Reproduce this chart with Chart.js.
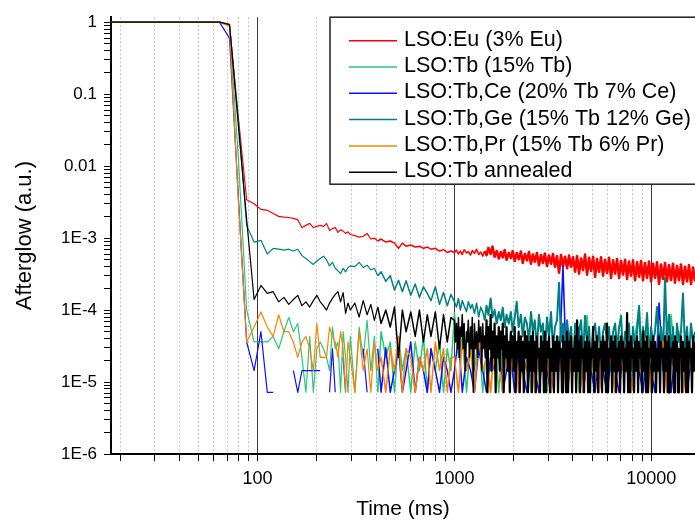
<!DOCTYPE html>
<html>
<head>
<meta charset="utf-8">
<title>Afterglow</title>
<script src="https://cdn.jsdelivr.net/npm/chart.js@4.4.0/dist/chart.umd.min.js"></script>
<style>
  html, body { margin: 0; padding: 0; background: #fff; }
  #wrap { width: 695px; height: 523px; }
</style>
</head>
<body>
<div id="wrap"><canvas id="afterglowChart" width="695" height="523"></canvas></div>
<script>
// Tiempos (ms) - parte inicial y caida, comun a todas las series
const timeEarly = [16, 24, 32, 40, 48, 56, 64, 72, 80, 88,
  96, 104, 112, 120, 128, 136, 144, 152, 160, 168,
  176, 184, 192, 200, 208, 216, 224, 232, 240, 248,
  256, 264, 272, 280, 288, 296, 312, 328, 344, 360,
  376, 392, 408, 424, 448, 472, 496, 520, 544, 568,
  600, 632, 664, 696, 728, 760, 800, 840, 880, 920,
  960];

// Tiempos (ms) de la zona ruidosa
const timeLate = [1000, 1024, 1048, 1072, 1096, 1120, 1152, 1176, 1208, 1232,
  1264, 1296, 1328, 1360, 1392, 1424, 1456, 1488, 1528, 1560,
  1600, 1640, 1680, 1720, 1760, 1800, 1840, 1888, 1936, 1976,
  2024, 2072, 2120, 2176, 2224, 2280, 2336, 2392, 2448, 2504,
  2560, 2624, 2688, 2752, 2816, 2880, 2952, 3024, 3096, 3168,
  3240, 3320, 3400, 3480, 3560, 3648, 3736, 3824, 3912, 4008,
  4104, 4200, 4296, 4400, 4504, 4608, 4720, 4832, 4944, 5064,
  5184, 5304, 5432, 5560, 5688, 5824, 5960, 6104, 6248, 6400,
  6552, 6704, 6864, 7024, 7192, 7360, 7536, 7712, 7896, 8080,
  8272, 8472, 8672, 8872, 9080, 9296, 9520, 9744, 9976, 10208,
  10448, 10696, 10952, 11208, 11472, 11744, 12024, 12304, 12600, 12896,
  13200, 13512, 13832, 14160, 14496, 14840, 15192, 15552, 15920, 16296,
  16680];

// tiempos intermedios (solo la serie annealed, que es la mas densa)
const timeLateMid = [1012, 1036, 1060, 1084, 1108, 1136, 1164, 1192, 1220, 1248,
  1280, 1312, 1344, 1376, 1408, 1440, 1472, 1508, 1544, 1580,
  1620, 1660, 1700, 1740, 1780, 1820, 1864, 1912, 1956, 2000,
  2048, 2096, 2148, 2200, 2252, 2308, 2364, 2420, 2476, 2532,
  2592, 2656, 2720, 2784, 2848, 2916, 2988, 3060, 3132, 3204,
  3280, 3360, 3440, 3520, 3604, 3692, 3780, 3868, 3960, 4056,
  4152, 4248, 4348, 4452, 4556, 4664, 4776, 4888, 5004, 5124,
  5244, 5368, 5496, 5624, 5756, 5892, 6032, 6176, 6324, 6476,
  6628, 6784, 6944, 7108, 7276, 7448, 7624, 7804, 7988, 8176,
  8372, 8572, 8772, 8976, 9188, 9408, 9632, 9860, 10092, 10328,
  10572, 10824, 11080, 11340, 11608, 11884, 12164, 12452, 12748, 13048,
  13356, 13672, 13996, 14328, 14668, 15016, 15372, 15736, 16108, 16488];

const timeLateSparse = [1000, 1048, 1096, 1152, 1208, 1264, 1328, 1392, 1456, 1528,
  1600, 1680, 1760, 1840, 1936, 2024, 2120, 2224, 2336, 2448,
  2560, 2688, 2816, 2952, 3096, 3240, 3400, 3560, 3736, 3912,
  4104, 4296, 4504, 4720, 4944, 5184, 5432, 5688, 5960, 6248,
  6552, 6864, 7192, 7536, 7896, 8272, 8672, 9080, 9520, 9976,
  10448, 10952, 11472, 12024, 12600, 13200, 13832, 14496, 15192, 15920,
  16680];

// LSO:Eu (3% Eu)
const euEarly = [1, 1, 1, 1, 1, 1, 1, 0.92, 0.045, 3.4e-3,
  3.0e-3, 2.5e-3, 2.43e-3, 2.2e-3, 2.0e-3, 1.95e-3, 1.93e-3, 1.88e-3, 1.8e-3, 1.4e-3,
  1.5e-3, 1.6e-3, 1.4e-3, 1.45e-3, 1.5e-3, 1.45e-3, 1.6e-3, 1.27e-3, 1.35e-3, 1.4e-3,
  1.2e-3, 1.3e-3, 1.25e-3, 1.16e-3, 1.22e-3, 1.12e-3, 1.08e-3, 1.03e-3, 1.06e-3, 1.16e-3,
  9.7e-4, 1.0e-3, 9.1e-4, 9.7e-4, 8.8e-4, 9.1e-4, 8.5e-4, 7.2e-4, 8.5e-4, 7.7e-4,
  8.0e-4, 7.5e-4, 7.7e-4, 7.2e-4, 7.5e-4, 7.0e-4, 7.2e-4, 6.6e-4, 6.9e-4, 6.3e-4,
  6.6e-4];
const euLate = [6.3e-4, 6.8e-4, 6.0e-4, 6.6e-4, 5.9e-4, 6.9e-4, 6.2e-4, 6.5e-4, 5.8e-4, 6.7e-4,
  6.1e-4, 7.0e-4, 5.9e-4, 6.4e-4, 5.6e-4, 6.6e-4, 5.8e-4, 7.3e-4, 6.0e-4, 7.6e-4,
  5.5e-4, 6.6e-4, 5.2e-4, 6.4e-4, 5.4e-4, 6.8e-4, 5.0e-4, 6.2e-4, 5.3e-4, 6.6e-4,
  4.8e-4, 6.2e-4, 5.1e-4, 6.5e-4, 4.5e-4, 6.0e-4, 4.9e-4, 6.4e-4, 4.4e-4, 5.9e-4,
  4.7e-4, 6.2e-4, 4.2e-4, 5.8e-4, 4.5e-4, 6.1e-4, 4.1e-4, 5.7e-4, 4.4e-4, 6.0e-4,
  4.0e-4, 5.6e-4, 3.3e-4, 5.8e-4, 4.1e-4, 5.5e-4, 3.8e-4, 5.7e-4, 4.0e-4, 5.4e-4,
  3.4e-4, 5.6e-4, 3.2e-4, 5.2e-4, 3.6e-4, 5.9e-4, 3.1e-4, 5.3e-4, 3.5e-4, 5.5e-4,
  2.9e-4, 5.1e-4, 3.4e-4, 5.4e-4, 3.0e-4, 5.0e-4, 3.3e-4, 5.3e-4, 2.8e-4, 4.9e-4,
  3.2e-4, 5.1e-4, 2.8e-4, 4.8e-4, 3.1e-4, 5.0e-4, 2.7e-4, 4.7e-4, 3.0e-4, 4.9e-4,
  2.6e-4, 4.6e-4, 2.9e-4, 4.8e-4, 2.6e-4, 4.5e-4, 2.8e-4, 4.7e-4, 2.5e-4, 4.4e-4,
  2.8e-4, 4.6e-4, 2.3e-4, 4.3e-4, 2.7e-4, 4.5e-4, 2.5e-4, 4.2e-4, 2.6e-4, 4.4e-4,
  2.4e-4, 4.1e-4, 2.6e-4, 4.3e-4, 2.3e-4, 4.0e-4, 2.5e-4, 4.2e-4, 2.3e-4, 3.9e-4,
  2.5e-4];

// LSO:Tb (15% Tb)
const tbEarly = [1, 1, 1, 1, 1, 1, 1, 0.9, 0.012, 1.0e-4,
  3.6e-5, 3.6e-5, 3.6e-5, 4.3e-5, 2.9e-5, 5.0e-5, 7.9e-5, 5.0e-5, 6.5e-5, 2.2e-5,
  7.2e-6, 4.3e-5, 7.2e-6, 2.9e-5, 3.6e-5, 2.9e-5, 2.2e-5, 1.44e-5, 5.8e-5, 2.9e-5,
  3.6e-5, 7.2e-6, 5.0e-5, 2.2e-5, 7.2e-6, 4.3e-5, 7.2e-6, 5.8e-5, 2.2e-5, 7.2e-5,
  1.44e-5, 4.3e-5, 7.2e-6, 5.0e-5, 2.2e-5, 3.6e-5, 7.2e-6, 4.3e-5, 1.44e-5, 2.9e-5,
  7.2e-6, 3.6e-5, 1.44e-5, 4.3e-5, 7.2e-6, 2.9e-5, 1.44e-5, 3.6e-5, 7.2e-6, 2.9e-5,
  1.44e-5];
const tbLate = [9.1e-5, 2.2e-5, 4.3e-5, 7.2e-6, 3.6e-5, 1.44e-5, 5.0e-5, 7.2e-6, 2.9e-5, 1.44e-5,
  4.3e-5, 7.2e-6, 3.6e-5, 2.2e-5, 5.0e-5, 7.2e-6, 2.9e-5, 1.44e-5, 4.3e-5, 7.2e-6,
  3.6e-5, 1.44e-5, 5.0e-5, 7.2e-6, 2.9e-5, 2.2e-5, 4.3e-5, 7.2e-6, 3.6e-5, 1.44e-5,
  5.0e-5, 7.2e-6, 2.9e-5, 8.3e-5, 1.44e-5, 3.6e-5, 7.2e-6, 4.3e-5, 1.44e-5, 3.6e-5,
  7.2e-6, 4.3e-5, 2.2e-5, 3.6e-5, 7.2e-6, 4.3e-5, 1.1e-4, 1.44e-5, 8.6e-5, 7.2e-6,
  3.6e-5, 1.44e-5, 4.3e-5, 7.2e-6, 8.6e-5, 2.2e-5, 5.0e-5, 7.2e-6, 3.6e-5, 1.44e-5,
  4.3e-5];

// LSO:Tb,Ce (20% Tb 7% Ce) - null = sin senal (hueco)
const ceEarly = [1, 1, 1, 1, 1, 1, 1, 0.6, 3.4e-3, 3.6e-5,
  1.44e-5, 5.0e-5, 7.2e-6, 7.2e-6, null, null, null, 1.44e-5, 7.2e-6, 1.44e-5,
  1.44e-5, 1.44e-5, 1.44e-5, 1.44e-5, 1.44e-5, null, null, 7.2e-6, 2.9e-5, 7.2e-6,
  null, null, 2.2e-5, 7.2e-6, null, null, null, null, 2.9e-5, 7.2e-6,
  null, null, 2.9e-5, 7.2e-6, 3.0e-5, 7.2e-6, 1.44e-5, 2.9e-5, 7.2e-6, 1.44e-5,
  3.6e-5, 7.2e-6, 2.2e-5, 1.44e-5, 7.2e-6, 2.9e-5, 1.44e-5, 7.2e-6, 2.2e-5, 1.44e-5,
  7.2e-6];
const ceLate = [1.44e-5, 4.3e-5, 7.2e-6, 2.2e-5, 1.44e-5, 7.2e-6, 2.9e-5, 1.44e-5, 7.2e-6, 2.2e-5,
  1.44e-5, 3.6e-5, 7.2e-6, 1.44e-5, 2.2e-5, 7.2e-6, 2.9e-5, 1.44e-5, 7.2e-6, 2.2e-5,
  1.44e-5, 7.2e-6, 2.9e-5, 1.44e-5, 7.2e-6, 2.2e-5, 1.44e-5, 4.1e-4, 7.2e-6, 2.2e-5,
  1.44e-5, 5.8e-5, 7.2e-6, 2.2e-5, 1.44e-5, 7.2e-6, 2.9e-5, 1.44e-5, 7.2e-6, 2.2e-5,
  1.44e-5, 7.2e-6, 2.9e-5, 1.44e-5, 7.2e-6, 2.2e-5, 1.44e-5, 7.2e-6, 2.9e-5, 1.44e-5,
  7.2e-6, 1.25e-4, 1.44e-5, 5.8e-5, 7.2e-6, 2.2e-5, 1.44e-5, 3.6e-5, 7.2e-6, 2.2e-5,
  1.44e-5];

// LSO:Tb,Ge (15% Tb 12% Ge)
const geEarly = [1, 1, 1, 1, 1, 1, 1, 0.9, 0.04, 1.5e-3,
  8.8e-4, 9.3e-4, 6.0e-4, 7.2e-4, 7.0e-4, 6.8e-4, 7.0e-4, 6.6e-4, 7.0e-4, 5.7e-4,
  5.2e-4, 4.7e-4, 4.3e-4, 4.8e-4, 5.2e-4, 5.6e-4, 5.0e-4, 4.1e-4, 4.6e-4, 3.8e-4,
  3.5e-4, 3.2e-4, 3.8e-4, 3.4e-4, 3.9e-4, 4.1e-4, 4.0e-4, 4.6e-4, 3.9e-4, 4.2e-4,
  3.6e-4, 3.8e-4, 3.0e-4, 3.4e-4, 2.5e-4, 3.0e-4, 1.9e-4, 2.6e-4, 1.8e-4, 2.55e-4,
  1.6e-4, 2.3e-4, 1.5e-4, 2.1e-4, 1.7e-4, 1.35e-4, 2.1e-4, 1.2e-4, 1.75e-4, 1.15e-4,
  1.65e-4];
const geLate = [1.3e-4, 1.1e-4, 1.45e-4, 1.0e-4, 1.35e-4, 1.15e-4, 9.5e-5, 1.3e-4, 1.05e-4, 1.2e-4,
  9.0e-5, 1.25e-4, 8.0e-5, 1.1e-4, 9.5e-5, 7.2e-5, 1.15e-4, 8.6e-5, 1.45e-4, 7.9e-5,
  1.0e-4, 6.5e-5, 9.4e-5, 7.2e-5, 1.08e-4, 5.8e-5, 8.6e-5, 6.5e-5, 9.4e-5, 5.0e-5,
  7.9e-5, 1.3e-4, 5.8e-5, 8.6e-5, 4.3e-5, 7.9e-5, 6.5e-5, 3.6e-5, 9.4e-5, 5.0e-5,
  7.2e-5, 2.9e-5, 8.6e-5, 5.0e-5, 6.5e-5, 2.2e-5, 7.9e-5, 4.3e-5, 9.4e-5, 2.9e-5,
  5.8e-5, 7.2e-5, 2.4e-4, 3.6e-5, 6.5e-5, 2.2e-5, 7.2e-5, 3.6e-5, 5.8e-5, 1.44e-5,
  6.5e-5, 2.9e-5, 5.0e-5, 7.2e-5, 2.2e-5, 8.3e-5, 3.6e-5, 5.8e-5, 1.44e-5, 5.0e-5,
  6.5e-5, 2.9e-5, 5.8e-5, 2.2e-5, 5.0e-5, 6.5e-5, 3.6e-5, 5.8e-5, 1.44e-5, 5.0e-5,
  6.5e-5, 2.9e-5, 5.8e-5, 8.3e-5, 2.2e-5, 5.0e-5, 3.6e-5, 6.5e-5, 1.44e-5, 5.8e-5,
  2.9e-5, 5.0e-5, 1.15e-4, 2.2e-5, 5.8e-5, 3.6e-5, 9.1e-5, 2.2e-5, 5.8e-5, 3.6e-5,
  5.0e-5, 1.1e-4, 2.9e-5, 5.8e-5, 2.2e-5, 2.8e-4, 3.6e-5, 8.6e-5, 2.9e-5, 5.8e-5,
  1.44e-5, 6.5e-5, 3.6e-5, 5.0e-5, 1.7e-4, 2.9e-5, 5.8e-5, 2.2e-5, 6.5e-5, 3.6e-5,
  5.0e-5];

// LSO:Tb,Pr (15% Tb 6% Pr)
const prEarly = [1, 1, 1, 1, 1, 1, 1, 0.88, 3.0e-3, 3.6e-5,
  5.8e-5, 9.4e-5, 5.8e-5, 4.3e-5, 8.6e-5, 5.0e-5, 5.0e-5, 3.6e-5, 2.2e-5, 3.6e-5,
  4.3e-5, 2.9e-5, 1.44e-5, 6.5e-5, 2.2e-5, 2.2e-5, 2.2e-5, 5.8e-5, 4.3e-5, 3.6e-5,
  2.2e-5, 5.0e-5, 2.9e-5, 7.2e-6, 3.6e-5, 2.2e-5, 7.2e-6, 5.0e-5, 1.44e-5, 2.9e-5,
  7.2e-6, 3.6e-5, 1.44e-5, 2.2e-5, 7.2e-6, 2.9e-5, 1.44e-5, 4.3e-5, 7.2e-6, 2.9e-5,
  2.2e-5, 7.2e-6, 2.2e-5, 1.44e-5, 2.9e-5, 7.2e-6, 3.6e-5, 1.44e-5, 2.9e-5, 7.2e-6,
  2.2e-5];
const prLate = [2.2e-5, 7.2e-6, 3.6e-5, 1.44e-5, 2.9e-5, 7.2e-6, 4.3e-5, 1.44e-5, 2.2e-5, 7.2e-6,
  3.6e-5, 2.2e-5, 7.2e-6, 2.9e-5, 1.44e-5, 3.6e-5, 7.2e-6, 2.2e-5, 1.44e-5, 4.3e-5,
  7.2e-6, 2.9e-5, 1.44e-5, 2.2e-5, 7.2e-6, 3.6e-5, 1.44e-5, 2.9e-5, 7.2e-6, 2.2e-5,
  1.44e-5, 3.6e-5, 7.2e-6, 2.2e-5, 1.44e-5, 2.9e-5, 7.2e-6, 4.3e-5, 1.44e-5, 2.2e-5,
  7.2e-6, 2.9e-5, 1.44e-5, 3.6e-5, 7.2e-6, 2.2e-5, 1.44e-5, 2.9e-5, 4.3e-5, 7.2e-6,
  2.2e-5, 1.44e-5, 3.6e-5, 7.2e-6, 2.2e-5, 1.44e-5, 2.9e-5, 7.2e-6, 2.2e-5, 1.44e-5,
  3.6e-5];

// LSO:Tb annealed
const annEarly = [1, 1, 1, 1, 1, 1, 1, 0.93, 0.035, 1.8e-3,
  1.4e-4, 2.2e-4, 1.7e-4, 1.8e-4, 1.3e-4, 1.5e-4, 1.2e-4, 1.4e-4, 1.6e-4, 1.15e-4,
  1.3e-4, 1.1e-4, 1.35e-4, 1.6e-4, 1.3e-4, 1.15e-4, 1.0e-4, 1.25e-4, 1.45e-4, 1.65e-4,
  1.8e-4, 1.3e-4, 1.75e-4, 9.0e-5, 1.25e-4, 1.0e-4, 1.25e-4, 8.0e-5, 1.35e-4, 8.6e-5,
  1.2e-4, 7.2e-5, 1.1e-4, 6.5e-5, 1.0e-4, 5.8e-5, 1.1e-4, 2.2e-5, 1.0e-4, 5.0e-5,
  9.4e-5, 4.3e-5, 1.0e-4, 3.6e-5, 8.6e-5, 4.3e-5, 9.4e-5, 2.9e-5, 8.6e-5, 3.6e-5,
  7.9e-5];
// valores en timeLate (picos)
const annLate = [7.2e-5, 6.5e-5, 7.9e-5, 5.8e-5, 8.6e-5, 6.5e-5, 5.0e-5, 7.2e-5, 5.8e-5, 7.9e-5,
  6.5e-5, 5.0e-5, 7.2e-5, 5.8e-5, 6.5e-5, 4.3e-5, 7.2e-5, 5.8e-5, 8.6e-5, 5.0e-5,
  6.5e-5, 4.3e-5, 5.8e-5, 5.0e-5, 6.5e-5, 4.3e-5, 5.8e-5, 3.6e-5, 5.0e-5, 4.3e-5,
  5.8e-5, 3.6e-5, 5.0e-5, 4.3e-5, 3.6e-5, 5.0e-5, 4.3e-5, 3.6e-5, 4.3e-5, 5.0e-5,
  3.6e-5, 4.3e-5, 2.9e-5, 4.3e-5, 3.6e-5, 5.0e-5, 3.6e-5, 4.3e-5, 2.9e-5, 4.3e-5,
  3.6e-5, 4.3e-5, 3.6e-5, 2.9e-5, 4.3e-5, 3.6e-5, 5.0e-5, 3.6e-5, 4.3e-5, 2.9e-5,
  4.3e-5, 7.2e-5, 3.6e-5, 4.3e-5, 2.9e-5, 3.6e-5, 4.3e-5, 3.6e-5, 2.9e-5, 5.8e-5,
  3.6e-5, 4.3e-5, 2.9e-5, 3.6e-5, 4.3e-5, 3.6e-5, 6.5e-5, 2.9e-5, 4.3e-5, 3.6e-5,
  4.3e-5, 2.9e-5, 3.6e-5, 4.3e-5, 3.6e-5, 2.9e-5, 9.1e-5, 3.6e-5, 4.3e-5, 2.9e-5,
  3.6e-5, 4.3e-5, 3.6e-5, 2.9e-5, 5.0e-5, 3.6e-5, 4.3e-5, 2.9e-5, 3.6e-5, 4.3e-5,
  3.6e-5, 2.9e-5, 4.3e-5, 3.6e-5, 2.9e-5, 4.3e-5, 3.6e-5, 4.3e-5, 2.9e-5, 3.6e-5,
  4.3e-5, 3.6e-5, 2.9e-5, 4.3e-5, 3.6e-5, 2.9e-5, 4.3e-5, 3.6e-5, 2.9e-5, 4.3e-5,
  3.6e-5];
// valores en timeLateMid (valles)
const annLateMid = [3.6e-5, 2.9e-5, 2.2e-5, 4.3e-5, 2.9e-5, 1.44e-5, 3.6e-5, 2.2e-5, 2.9e-5, 7.2e-6,
  2.9e-5, 2.2e-5, 3.6e-5, 1.44e-5, 2.9e-5, 2.2e-5, 7.2e-6, 2.9e-5, 1.44e-5, 2.2e-5,
  7.2e-6, 2.2e-5, 1.44e-5, 2.9e-5, 7.2e-6, 2.2e-5, 1.44e-5, 7.2e-6, 2.2e-5, 1.44e-5,
  7.2e-6, 2.2e-5, 7.2e-6, 1.44e-5, 7.2e-6, 2.2e-5, 7.2e-6, 1.44e-5, 7.2e-6, 1.44e-5,
  7.2e-6, 2.2e-5, 7.2e-6, 1.44e-5, 7.2e-6, 7.2e-6, 2.2e-5, 7.2e-6, 1.44e-5, 7.2e-6,
  1.44e-5, 7.2e-6, 2.2e-5, 7.2e-6, 1.44e-5, 7.2e-6, 7.2e-6, 2.2e-5, 7.2e-6, 1.44e-5,
  7.2e-6, 1.44e-5, 7.2e-6, 2.2e-5, 7.2e-6, 1.44e-5, 7.2e-6, 7.2e-6, 2.2e-5, 7.2e-6,
  1.44e-5, 7.2e-6, 2.2e-5, 7.2e-6, 1.44e-5, 7.2e-6, 7.2e-6, 2.2e-5, 7.2e-6, 1.44e-5,
  7.2e-6, 1.44e-5, 7.2e-6, 2.2e-5, 7.2e-6, 1.44e-5, 7.2e-6, 7.2e-6, 2.2e-5, 7.2e-6,
  1.44e-5, 7.2e-6, 2.2e-5, 7.2e-6, 1.44e-5, 7.2e-6, 7.2e-6, 2.2e-5, 7.2e-6, 1.44e-5,
  7.2e-6, 1.44e-5, 7.2e-6, 2.2e-5, 7.2e-6, 1.44e-5, 7.2e-6, 7.2e-6, 2.2e-5, 7.2e-6,
  1.44e-5, 7.2e-6, 2.2e-5, 7.2e-6, 1.44e-5, 7.2e-6, 7.2e-6, 2.2e-5, 7.2e-6, 1.44e-5];

// Etiquetas de los ejes
const xLabelTicks = [100, 1000, 10000];
const xLabelText = ['100', '1000', '10000'];
const yLabelTicks = [1, 0.1, 0.01, 1e-3, 1e-4, 1e-5, 1e-6];
const yLabelText = ['1', '0.1', '0.01', '1E-3', '1E-4', '1E-5', '1E-6'];

const FONT = '"Liberation Sans", Arial, sans-serif';

function toPoints(times, values) {
    if (times.length !== values.length) {
        console.warn('longitud distinta', times.length, values.length);
    }
    return times.map((t, i) => ({ x: t, y: values[i] }));
}

function labelIndex(value, list) {
    return list.findIndex(t => Math.abs(Math.log10(value) - Math.log10(t)) < 1e-6);
}

// deja solo 1..9 x 10^n (quita 1.5 y los extremos min/max)
function keepWholeTicks(scale) {
    scale.ticks = scale.ticks.filter(t => {
        const e = Math.floor(Math.log10(t.value) + 1e-9);
        const m = t.value / Math.pow(10, e);
        return Math.abs(m - Math.round(m)) < 1e-6;
    });
}

// lateWidth: trazo en la zona densa (> 1.4 s)
const series = [
    { label: 'LSO:Eu (3% Eu)', color: '#ff0000', early: euEarly, late: euLate, lateTimes: timeLate, lateWidth: 2.6 },
    { label: 'LSO:Tb (15% Tb)', color: 'rgb(40,200,120)', early: tbEarly, late: tbLate, lateTimes: timeLateSparse, lateWidth: 1.6 },
    { label: 'LSO:Tb,Ce (20% Tb 7% Ce)', color: '#1010ff', early: ceEarly, late: ceLate, lateTimes: timeLateSparse, lateWidth: 1.6 },
    { label: 'LSO:Tb,Ge (15% Tb 12% Ge)', color: '#008080', early: geEarly, late: geLate, lateTimes: timeLate, lateWidth: 2.0 },
    { label: 'LSO:Tb,Pr (15% Tb 6% Pr)', color: '#ff8000', early: prEarly, late: prLate, lateTimes: timeLateSparse, lateWidth: 1.8 },
    { label: 'LSO:Tb annealed', color: '#000000', early: annEarly, late: annLate, lateTimes: timeLate,
      mid: annLateMid, midTimes: timeLateMid, lateWidth: 2.2 }
];

function seriesPoints(s) {
    let late = toPoints(s.lateTimes, s.late);
    if (s.mid) {
        late = late.concat(toPoints(s.midTimes, s.mid)).sort((a, b) => a.x - b.x);
    }
    return toPoints(timeEarly, s.early).concat(late);
}

// Leyenda con marco, dentro del area del grafico
const legendBox = {
    id: 'legendBox',
    afterDraw(chart) {
        const { ctx, chartArea } = chart;
        const left = chartArea.left + 219;
        const top = chartArea.top;
        ctx.save();
        ctx.fillStyle = '#fff';
        ctx.fillRect(left, top, 380, 167);
        ctx.strokeStyle = '#222';
        ctx.lineWidth = 1.5;
        ctx.strokeRect(left, top, 380, 167);
        ctx.font = '21.5px ' + FONT;
        ctx.textBaseline = 'middle';
        chart.data.datasets.forEach((ds, i) => {
            const y = top + 23.5 + i * 26.3;
            ctx.strokeStyle = ds.borderColor;
            ctx.lineWidth = 1.5;
            ctx.beginPath();
            ctx.moveTo(left + 19, y);
            ctx.lineTo(left + 67, y);
            ctx.stroke();
            ctx.fillStyle = '#000';
            ctx.fillText(ds.label, left + 74, y - 1);
        });
        ctx.restore();
    }
};

const ctx = document.getElementById('afterglowChart').getContext('2d');
new Chart(ctx, {
    type: 'line',
    data: {
        datasets: series.map((s, i) => ({
            label: s.label,
            data: seriesPoints(s),
            borderColor: s.color,
            backgroundColor: s.color,
            borderWidth: 1.2,
            borderJoinStyle: 'round',
            pointRadius: 0,
            tension: 0,
            spanGaps: false,
            fill: false,
            order: series.length - 1 - i,
            segment: {
                borderWidth: (c) => c.p0.parsed.x >= 1400 ? s.lateWidth : (c.p0.parsed.x >= 400 ? 1.5 : 1.2)
            }
        }))
    },
    options: {
        responsive: false,
        animation: false,
        devicePixelRatio: 1,
        layout: { padding: { top: 16, right: 0, bottom: 0, left: 0 } },
        plugins: {
            legend: { display: false },
            tooltip: { enabled: false }
        },
        scales: {
            x: {
                type: 'logarithmic',
                position: 'bottom',
                min: 18,
                max: 16680,
                afterBuildTicks: keepWholeTicks,
                afterFit: (scale) => { scale.height = 69; },
                grid: {
                    drawOnChartArea: true,
                    drawTicks: true,
                    tickLength: 7,
                    tickColor: '#000',
                    tickWidth: 1,
                    lineWidth: 1,
                    color: (c) => (c.tick && labelIndex(c.tick.value, xLabelTicks) >= 0) ? '#3a3a3a' : '#c6c6c6'
                },
                border: {
                    display: true,
                    color: '#000',
                    width: 2,
                    dash: (c) => (c.tick && labelIndex(c.tick.value, xLabelTicks) < 0) ? [2, 2] : []
                },
                ticks: {
                    autoSkip: false,
                    maxRotation: 0,
                    padding: 7,
                    color: '#000',
                    font: { family: FONT, size: 18 },
                    callback: (v) => {
                        const k = labelIndex(v, xLabelTicks);
                        return k >= 0 ? xLabelText[k] : '';
                    }
                },
                title: {
                    display: true,
                    text: 'Time (ms)',
                    color: '#000',
                    font: { family: FONT, size: 21 },
                    padding: { top: 0, bottom: 1 }
                }
            },
            y: {
                type: 'logarithmic',
                position: 'left',
                min: 1e-6,
                max: 1.17,
                afterBuildTicks: keepWholeTicks,
                afterFit: (scale) => { scale.width = 111; },
                grid: {
                    drawOnChartArea: false,
                    drawTicks: true,
                    tickLength: 7,
                    tickColor: '#000',
                    tickWidth: 1
                },
                border: { display: true, color: '#000', width: 2 },
                ticks: {
                    autoSkip: false,
                    padding: 7,
                    color: '#000',
                    font: { family: FONT, size: 17 },
                    callback: (v) => {
                        const k = labelIndex(v, yLabelTicks);
                        return k >= 0 ? yLabelText[k] : '';
                    }
                },
                title: {
                    display: true,
                    text: 'Afterglow (a.u.)',
                    color: '#000',
                    font: { family: FONT, size: 22 },
                    padding: { top: 12, bottom: 0 }
                }
            }
        }
    },
    plugins: [legendBox]
});
</script>
</body>
</html>
